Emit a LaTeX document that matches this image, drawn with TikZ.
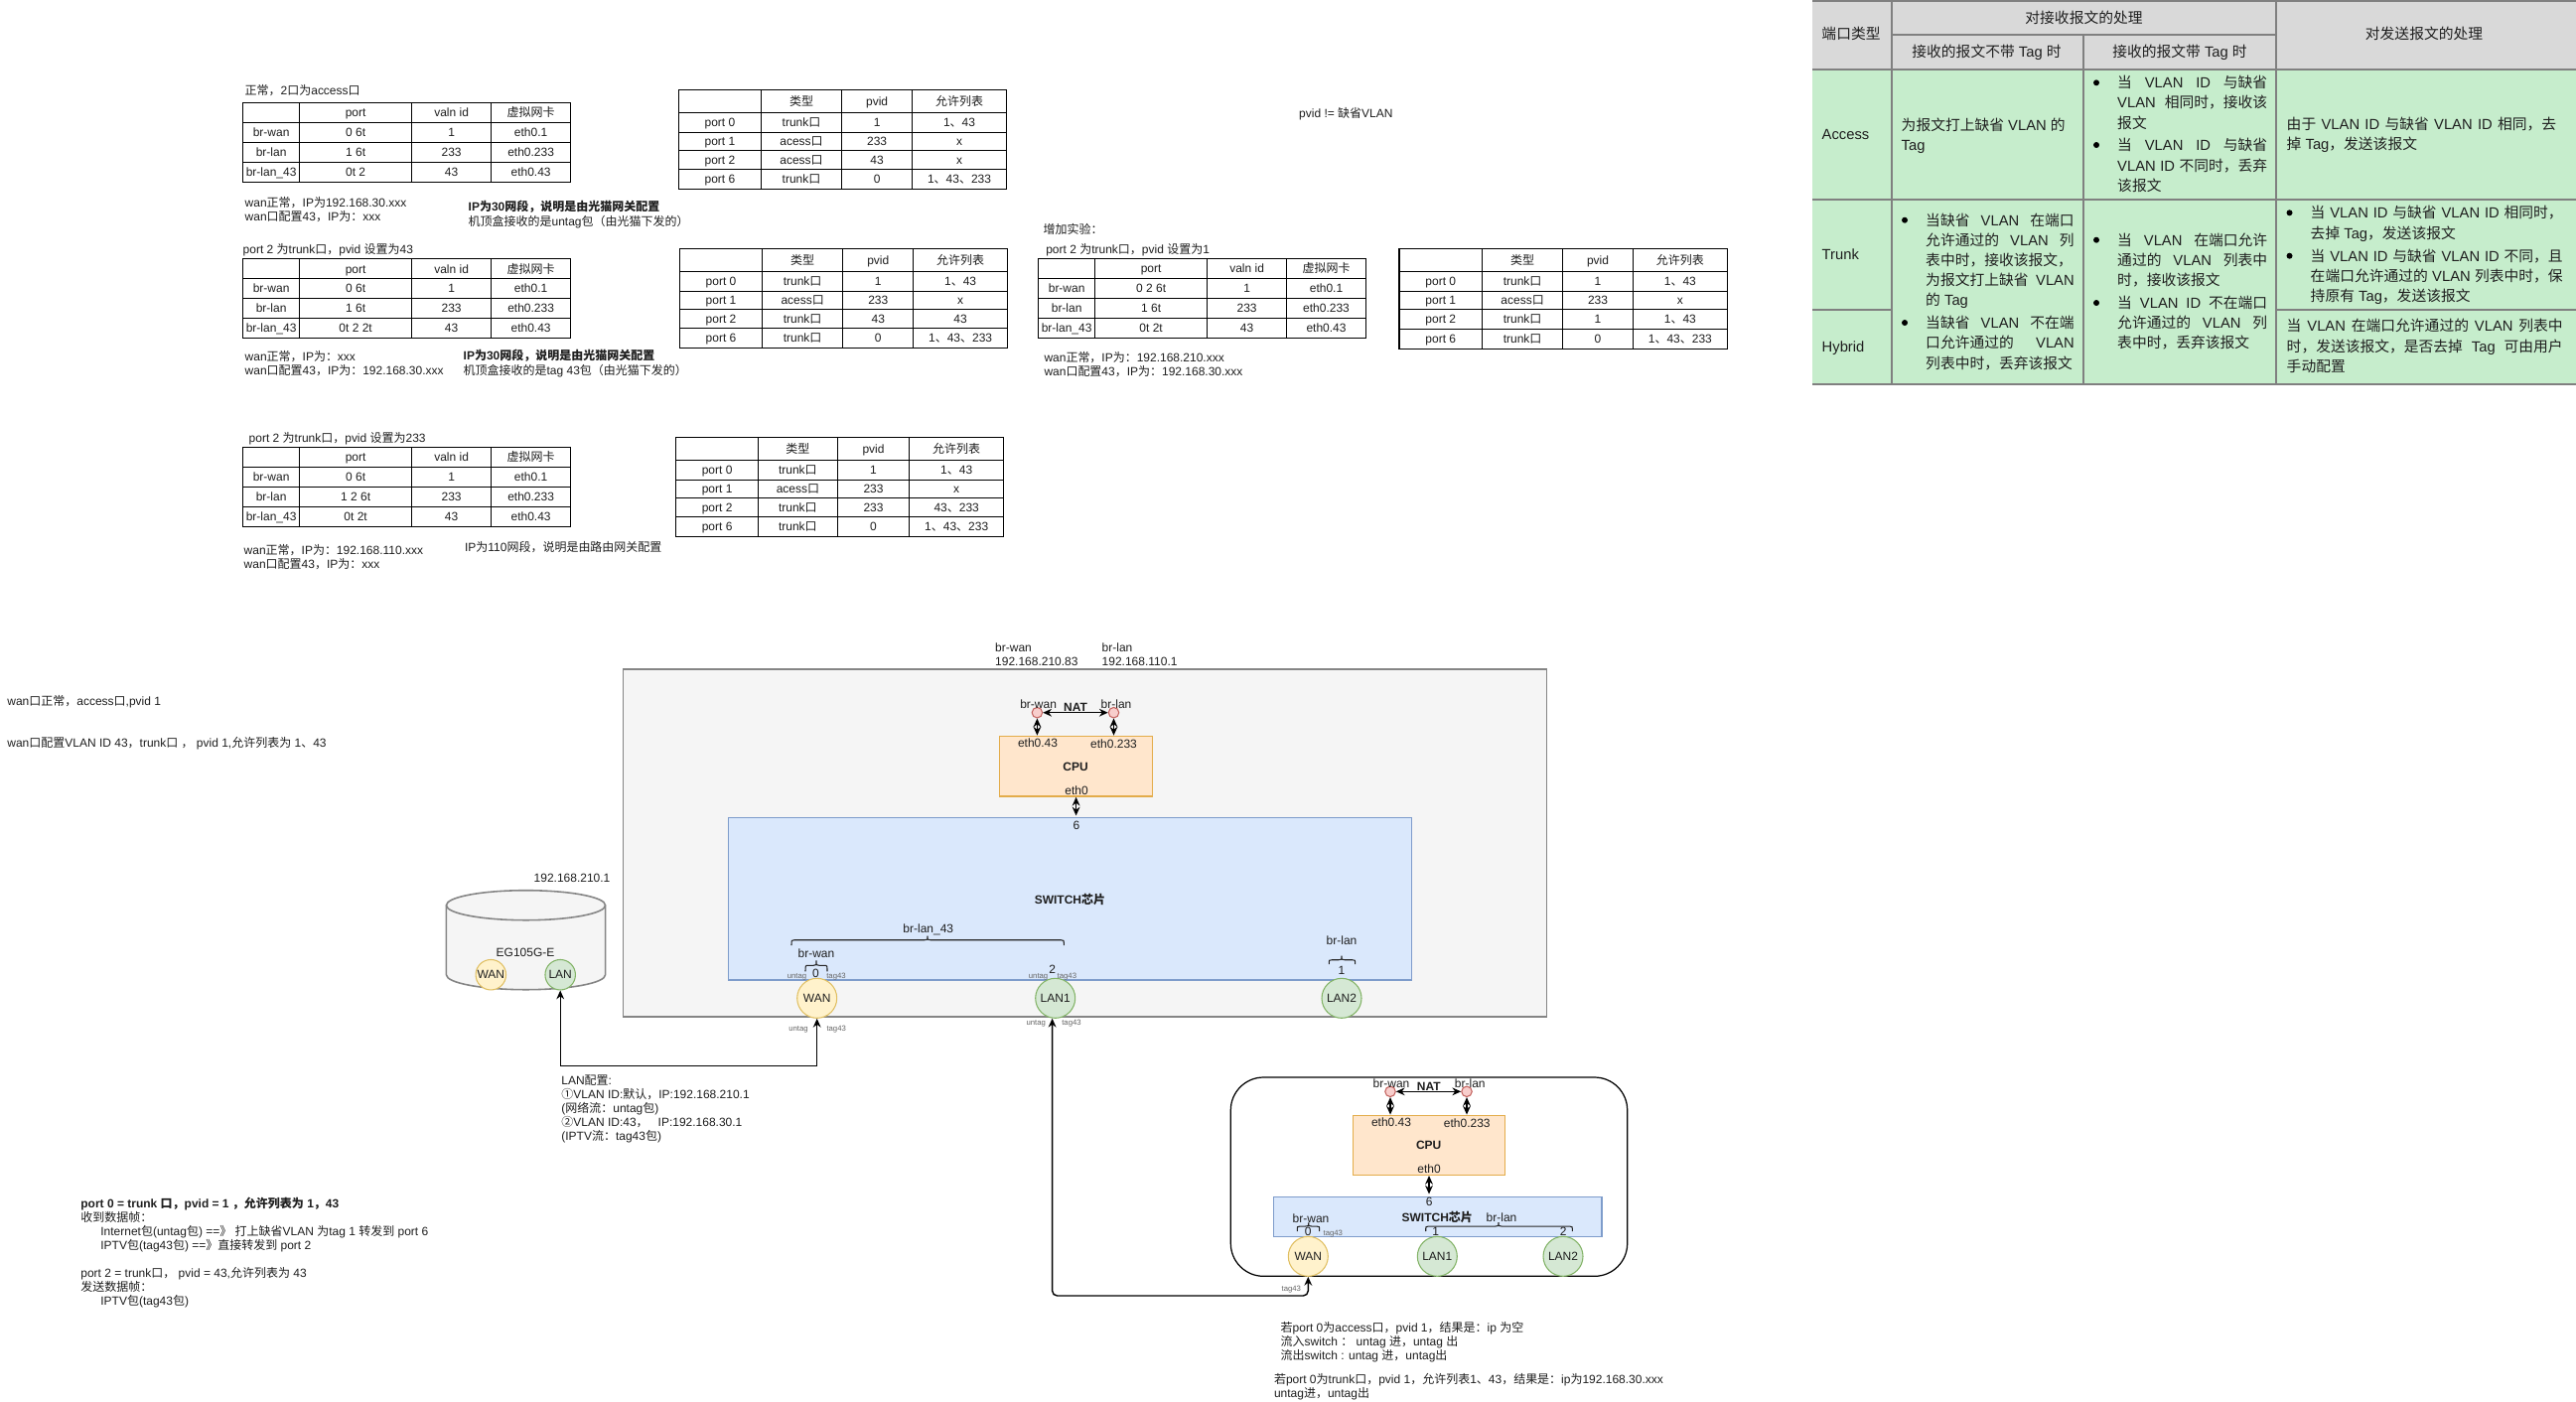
\documentclass[tikz,border=0pt]{standalone}
\usepackage{fontspec}
\usetikzlibrary{arrows.meta}
\setmainfont{Liberation Sans}
\newfontfamily\cjk{Noto Sans CJK SC}
\newfontfamily\lat{Liberation Sans}
\XeTeXinterchartokenstate=1
\newXeTeXintercharclass\cjkclass
\newcount\cc
\cc="2460 \loop \XeTeXcharclass\cc=\cjkclass \advance\cc by 1 \ifnum\cc<"2500 \repeat
\cc="2E80 \loop \XeTeXcharclass\cc=\cjkclass \advance\cc by 1 \ifnum\cc<"A000 \repeat
\cc="FF00 \loop \XeTeXcharclass\cc=\cjkclass \advance\cc by 1 \ifnum\cc<"FFF0 \repeat
\XeTeXinterchartoks 0 \cjkclass = {\cjk}
\XeTeXinterchartoks 4095 \cjkclass = {\cjk}
\XeTeXinterchartoks \cjkclass 0 = {\lat}
\XeTeXinterchartoks \cjkclass 4095 = {\lat}
\newdimen\pxu \pxu=0.01cm
\newcount\nodeno
\definecolor{tx}{HTML}{1F1F1F}
\definecolor{sub}{HTML}{666666}
\definecolor{gline}{HTML}{808080}
\definecolor{ghead}{HTML}{D9D9D9}
\definecolor{gbody}{HTML}{C6EDCC}
\definecolor{cpufill}{HTML}{FFE6CC}
\definecolor{cpuline}{HTML}{E3AC4A}
\definecolor{swfill}{HTML}{DAE8FC}
\definecolor{swline}{HTML}{7E9CCB}
\definecolor{yfill}{HTML}{FFF2CC}
\definecolor{yline}{HTML}{E0BF62}
\definecolor{gfill}{HTML}{D5E8D4}
\definecolor{gbord}{HTML}{82B366}
\definecolor{rfill}{HTML}{F8CECC}
\definecolor{rline}{HTML}{C4635F}
\tikzset{
  txt/.style={inner sep=0pt,text height=2.6pt,text depth=0.15pt,text=tx,font=\fontsize{3.41}{4.1}\selectfont},
  big/.style={text height=3.3pt,text depth=0.15pt,font=\fontsize{4.2}{5}\selectfont},
  tiny/.style={text height=1.8pt,text depth=0.1pt,text=sub,font=\fontsize{2.2}{3}\selectfont},
  left/.style={anchor=west},
  tline/.style={draw=black,line width=0.35pt},
  iline/.style={draw=gline,line width=0.55pt},
  outer/.style={draw=sub!80!white,fill=black!4,line width=0.45pt},
  cpubox/.style={draw=cpuline,fill=cpufill,line width=0.4pt},
  swbox/.style={draw=swline,fill=swfill,line width=0.4pt},
  roundport/.style={circle,inner sep=0pt,minimum size=40\pxu,line width=0.3pt,text=tx,font=\fontsize{3.41}{4.1}\selectfont},
  yport/.style={roundport,draw=yline,fill=yfill},
  gport/.style={roundport,draw=gbord,fill=gfill},
  rdot/.style={circle,inner sep=0pt,minimum size=10.5\pxu,draw=rline,fill=rfill,line width=0.3pt},
  biarrow/.style={draw=black,line width=0.4pt,{Stealth[length=2.5pt,width=2.2pt]}-{Stealth[length=2.5pt,width=2.2pt]}},
  brc/.style={draw=black!85,line width=0.3pt},
}
\newcommand\lbl[4][]{\global\advance\nodeno by 1\relax\node[txt,#1] (n\the\nodeno) at ({#2},{#3}) {#4};}
\newcommand\jl[4]{\lbl[big,left]{#1}{#2}{\makebox[#3\pxu][s]{#4}}}
\newcommand\setx[5]{\def\xa{#1}\def\xb{#2}\def\xc{#3}\def\xd{#4}\def\xe{#5}}
\newcommand\trow[6]{%
  \draw[tline] (\xa,#1) rectangle (\xe,#2);
  \draw[tline] (\xb,#1) -- (\xb,#2) (\xc,#1) -- (\xc,#2) (\xd,#1) -- (\xd,#2);
  \lbl{(\xa+\xb)/2}{(#1+#2)/2}{#3}
  \lbl{(\xb+\xc)/2}{(#1+#2)/2}{#4}
  \lbl{(\xc+\xd)/2}{(#1+#2)/2}{#5}
  \lbl{(\xd+\xe)/2}{(#1+#2)/2}{#6}}
% x1,x2,xtip,ytip,ymid,yend
\newcommand\curly[6]{\draw[brc] (#1,#6) .. controls (#1,#5) .. ({#1+3},#5) -- ({#3-3},#5) .. controls (#3,#5) .. (#3,#4) .. controls (#3,#5) .. ({#3+3},#5) -- ({#2-3},#5) .. controls (#2,#5) .. (#2,#6);}
\begin{document}
\begin{tikzpicture}[x=0.01cm,y=-0.01cm]
\useasboundingbox (0,0) rectangle (2594,1411);
\fill[white] (0,0) rectangle (2594,1411);
% ---------- tables, left
\lbl[left]{246}{90.7}{正常，2口为access口}
\setx{244.6}{301.6}{414.6}{494.6}{574.6}
\trow{103.3}{123.3}{}{port}{valn id}{虚拟网卡}
\trow{123.3}{143.3}{br-wan}{0 6t}{1}{eth0.1}
\trow{143.3}{163.3}{br-lan}{1 6t}{233}{eth0.233}
\trow{163.3}{183.3}{br-lan\_43}{0t 2}{43}{eth0.43}
\lbl[left]{246}{204}{wan正常，IP为192.168.30.xxx}
\lbl[left]{246}{218}{wan口配置43，IP为：xxx}
\lbl[left]{471}{208}{\bfseries IP为30网段，说明是由光猫网关配置}
\lbl[left]{471}{222.7}{机顶盒接收的是untag包（由光猫下发的）}
\setx{683.4}{766.5}{847.6}{918.7}{1013.4}
\trow{90.3}{113.3}{}{类型}{pvid}{允许列表}
\trow{113.3}{133.3}{port 0}{trunk口}{1}{1、43}
\trow{133.3}{151.7}{port 1}{acess口}{233}{x}
\trow{151.7}{170.7}{port 2}{acess口}{43}{x}
\trow{170.7}{190.3}{port 6}{trunk口}{0}{1、43、233}
% second
\lbl[left]{244}{251}{port 2 为trunk口，pvid 设置为43}
\setx{244.6}{301.6}{414.6}{494.6}{574.6}
\trow{260.7}{280.7}{}{port}{valn id}{虚拟网卡}
\trow{280.7}{300.3}{br-wan}{0 6t}{1}{eth0.1}
\trow{300.3}{320.3}{br-lan}{1 6t}{233}{eth0.233}
\trow{320.3}{340.3}{br-lan\_43}{0t 2 2t}{43}{eth0.43}
\lbl[left]{246}{358.7}{wan正常，IP为：xxx}
\lbl[left]{246}{372.7}{wan口配置43，IP为：192.168.30.xxx}
\lbl[left]{466}{358.3}{\bfseries IP为30网段，说明是由光猫网关配置}
\lbl[left]{466}{372.7}{机顶盒接收的是tag 43包（由光猫下发的）}
\setx{684.4}{767.6}{848.7}{919.8}{1014.4}
\trow{250.3}{273.3}{}{类型}{pvid}{允许列表}
\trow{273.3}{293.3}{port 0}{trunk口}{1}{1、43}
\trow{293.3}{311.7}{port 1}{acess口}{233}{x}
\trow{311.7}{330.7}{port 2}{trunk口}{43}{43}
\trow{330.7}{350.3}{port 6}{trunk口}{0}{1、43、233}
% third
\lbl[left]{250}{441}{port 2 为trunk口，pvid 设置为233}
\setx{244.6}{301.6}{414.6}{494.6}{574.6}
\trow{450.3}{470.3}{}{port}{valn id}{虚拟网卡}
\trow{470.3}{490.3}{br-wan}{0 6t}{1}{eth0.1}
\trow{490.3}{510.3}{br-lan}{1 2 6t}{233}{eth0.233}
\trow{510.3}{530.3}{br-lan\_43}{0t 2t}{43}{eth0.43}
\lbl[left]{245}{554}{wan正常，IP为：192.168.110.xxx}
\lbl[left]{245}{568.3}{wan口配置43，IP为：xxx}
\lbl[left]{467.4}{551}{IP为110网段，说明是由路由网关配置}
\setx{680.8}{763.4}{843.4}{915.6}{1010.8}
\trow{440.3}{463.3}{}{类型}{pvid}{允许列表}
\trow{463.3}{483.3}{port 0}{trunk口}{1}{1、43}
\trow{483.3}{501.7}{port 1}{acess口}{233}{x}
\trow{501.7}{520.7}{port 2}{trunk口}{233}{43、233}
\trow{520.7}{540.3}{port 6}{trunk口}{0}{1、43、233}
% fourth
\lbl[left]{1307.5}{113.7}{pvid != 缺省VLAN}
\lbl[left]{1050}{231}{增加实验：}
\lbl[left]{1052.6}{251}{port 2 为trunk口，pvid 设置为1}
\setx{1045.6}{1102.7}{1215.5}{1295.7}{1375.4}
\trow{260.3}{280.3}{}{port}{valn id}{虚拟网卡}
\trow{280.3}{300.3}{br-wan}{0 2 6t}{1}{eth0.1}
\trow{300.3}{320.3}{br-lan}{1 6t}{233}{eth0.233}
\trow{320.3}{340.3}{br-lan\_43}{0t 2t}{43}{eth0.43}
\lbl[left]{1050.8}{360}{wan正常，IP为：192.168.210.xxx}
\lbl[left]{1050.8}{373.7}{wan口配置43，IP为：192.168.30.xxx}
\setx{1409}{1492.5}{1573.7}{1644.4}{1739.3}
\trow{250.3}{273.3}{}{类型}{pvid}{允许列表}
\trow{273.3}{293.3}{port 0}{trunk口}{1}{1、43}
\trow{293.3}{311.7}{port 1}{acess口}{233}{x}
\trow{311.7}{331.3}{port 2}{trunk口}{1}{1、43}
\trow{331.3}{351.3}{port 6}{trunk口}{0}{1、43、233}
% ---------- reference table, top right
\fill[ghead] (1825,0.7) rectangle (2594,69.7);
\fill[gbody] (1825,69.7) rectangle (2594,386.7);
\draw[iline] (1825,0.7) -- (2594,0.7) (1825,69.7) -- (2594,69.7) (1825,201) -- (2594,201) (1825,386.7) -- (2594,386.7);
\draw[iline] (1905,35.3) -- (2292,35.3) (1825,312) -- (1905,312) (2292,312) -- (2594,312);
\draw[iline] (1905,0.7) -- (1905,386.7) (2292,0.7) -- (2292,386.7) (2098,35.3) -- (2098,386.7);
\lbl[big]{1864}{34.3}{端口类型}
\lbl[big]{2098.5}{18.3}{对接收报文的处理}
\lbl[big]{2000.5}{52.3}{接收的报文不带 Tag 时}
\lbl[big]{2195}{52.3}{接收的报文带 Tag 时}
\lbl[big]{2441}{34}{对发送报文的处理}
\lbl[big,left]{1834}{134.7}{Access}
\lbl[big,left]{1834}{256}{Trunk}
\lbl[big,left]{1834}{349}{Hybrid}
\lbl[big,left]{1914}{126}{为报文打上缺省 VLAN 的}
\lbl[big,left]{1914}{145.7}{Tag}
\jl{2131.5}{83.3}{151}{当 VLAN ID 与缺省}
\jl{2131.5}{103.3}{151}{VLAN 相同时，接收该}
\lbl[big,left]{2131.5}{124}{报文}
\jl{2131.5}{146}{151}{当 VLAN ID 与缺省}
\jl{2131.5}{166.7}{151}{VLAN ID 不同时，丢弃}
\lbl[big,left]{2131.5}{187}{该报文}
\jl{2302}{125}{271.5}{由于 VLAN ID 与缺省 VLAN ID 相同，去}
\lbl[big,left]{2302}{145}{掉 Tag，发送该报文}
\jl{1938.5}{221.7}{149.5}{当缺省 VLAN 在端口}
\jl{1938.5}{241.7}{149.5}{允许通过的 VLAN 列}
\lbl[big,left]{1938.5}{261.7}{表中时，接收该报文，}
\jl{1938.5}{281.7}{149.5}{为报文打上缺省 VLAN}
\lbl[big,left]{1938.5}{301.7}{的 Tag}
\jl{1938.5}{325}{149.5}{当缺省 VLAN 不在端}
\jl{1938.5}{345}{149.5}{口允许通过的 VLAN}
\lbl[big,left]{1938.5}{365.7}{列表中时，丢弃该报文}
\jl{2131.5}{241.7}{151}{当 VLAN 在端口允许}
\jl{2131.5}{261.7}{151}{通过的 VLAN 列表中}
\lbl[big,left]{2131.5}{281.7}{时，接收该报文}
\jl{2131.5}{305}{151}{当 VLAN ID 不在端口}
\jl{2131.5}{325}{151}{允许通过的 VLAN 列}
\lbl[big,left]{2131.5}{345}{表中时，丢弃该报文}
\jl{2326}{214.3}{254}{当 VLAN ID 与缺省 VLAN ID 相同时，}
\lbl[big,left]{2326}{235}{去掉 Tag，发送该报文}
\jl{2326}{257.7}{254}{当 VLAN ID 与缺省 VLAN ID 不同，且}
\jl{2326}{277.7}{254}{在端口允许通过的 VLAN 列表中时，保}
\lbl[big,left]{2326}{298.3}{持原有 Tag，发送该报文}
\jl{2302}{328.3}{278}{当 VLAN 在端口允许通过的 VLAN 列表中}
\jl{2302}{349}{278}{时，发送该报文，是否去掉 Tag 可由用户}
\lbl[big,left]{2302}{369}{手动配置}
\foreach \bx/\by in {2111/83.3,2111/146,1918/221.7,1918/325,2111/241.7,2111/305,2305.5/214.3,2305.5/257.7}
  \fill[black] (\bx,\by) circle (3);
% ---------- side notes
\lbl[left]{6.7}{705.7}{wan口正常，access口,pvid 1}
\lbl[left]{6.7}{747.7}{wan口配置VLAN ID 43，trunk口 ， pvid 1,允许列表为 1、43}
\lbl[left]{80.7}{1211.7}{\bfseries port 0 = trunk 口，pvid = 1 ，允许列表为 1，43}
\lbl[left]{80.7}{1225.7}{收到数据帧：}
\lbl[left]{100.7}{1240}{Internet包(untag包) ==》 打上缺省VLAN 为tag 1 转发到 port 6}
\lbl[left]{100.7}{1253.7}{IPTV包(tag43包) ==》直接转发到 port 2}
\lbl[left]{80.7}{1281.7}{port 2 = trunk口， pvid = 43,允许列表为 43}
\lbl[left]{80.7}{1296.3}{发送数据帧：}
\lbl[left]{100.7}{1310.3}{IPTV包(tag43包)}
% ---------- main router
\lbl[left]{1001.5}{651.7}{br-wan}
\lbl[left]{1001.5}{665.7}{192.168.210.83}
\lbl[left]{1109}{651.7}{br-lan}
\lbl[left]{1109}{665.7}{192.168.110.1}
\draw[outer] (627.3,673.7) rectangle (1557.5,1023.7);
\node[rectangle,inner sep=0pt,minimum width=154.3\pxu,minimum height=60.7\pxu,cpubox] (cpu) at (1083.5,771.7) {};
\node[rectangle,inner sep=0pt,minimum width=688.3\pxu,minimum height=163.3\pxu,swbox] (sw) at (1077.4,905.3) {};
\node[rdot] (dw) at (1044.4,717.7) {};
\node[rdot] (dl) at (1121.5,717.7) {};
\draw[biarrow] (dw) -- (dl);
\draw[biarrow] (dw.south) -- (dw.south |- cpu.north);
\draw[biarrow] (dl.south) -- (dl.south |- cpu.north);
\draw[biarrow,shorten >=1.5\pxu] (cpu.south -| 1083.6,0) -- (sw.north -| 1083.6,0);
\lbl{1045.6}{709}{br-wan}
\lbl{1124}{709}{br-lan}
\lbl[font=\fontsize{3.41}{4.1}\selectfont\bfseries]{1083}{711.7}{NAT}
\lbl{1045}{747.7}{eth0.43}
\lbl{1121.5}{748.7}{eth0.233}
\lbl[font=\fontsize{3.41}{4.1}\selectfont\bfseries]{1083}{771.7}{CPU}
\lbl{1084}{795.7}{eth0}
\lbl{1084}{830.7}{6}
\lbl[font=\fontsize{3.41}{4.1}\selectfont\bfseries]{1077.4}{905.7}{SWITCH芯片}
\lbl{934.8}{934.7}{br-lan\_43}
\curly{797}{1071.3}{934}{942.7}{946.7}{952}
\lbl{822}{959.7}{br-wan}
\curly{811}{833}{822}{967.3}{972.3}{978.3}
\lbl{821.5}{980.3}{0}
\lbl[tiny]{802.5}{982.7}{untag}
\lbl[tiny]{842}{982.7}{tag43}
\lbl{1059.7}{975.7}{2}
\lbl[tiny]{1045.6}{982.7}{untag}
\lbl[tiny]{1074.4}{982.7}{tag43}
\lbl{1351}{946.7}{br-lan}
\curly{1338.3}{1364.6}{1351}{962.7}{966.7}{971}
\lbl{1351}{976.7}{1}
\node[yport] (wan) at (822.7,1005.3) {WAN};
\node[gport] (lan1) at (1062.7,1005.3) {LAN1};
\node[gport] (lan2) at (1351,1005.3) {LAN2};
\lbl[tiny]{804}{1035.7}{untag}
\lbl[tiny]{842.2}{1035.7}{tag43}
\lbl[tiny]{1043.3}{1029.7}{untag}
\lbl[tiny]{1079}{1029.7}{tag43}
% ---------- modem
\path[outer] (449.4,911.7) -- (449.4,981.7) arc[start angle=180,end angle=0,x radius=80.1,y radius=15] -- (609.6,911.7) arc[start angle=0,end angle=-180,x radius=80.1,y radius=15] -- cycle;
\draw[draw=sub!80!white,line width=0.45pt] (449.4,911.7) arc[start angle=180,end angle=0,x radius=80.1,y radius=15];
\lbl[left]{537}{883.7}{192.168.210.1}
\lbl{529}{959.3}{EG105G-E}
\node[yport,minimum size=30.5\pxu] (egw) at (494.3,981.7) {WAN};
\node[gport,minimum size=30.5\pxu] (egl) at (564.2,981.7) {LAN};
\coordinate (bendA) at (700,1073.7);
\draw[biarrow] (wan.south) -- (wan.south |- bendA) -- (egl.south |- bendA) -- (egl.south);
\lbl[left]{564.7}{1087.7}{LAN配置:}
\lbl[left]{564.7}{1101.7}{①VLAN ID:默认，IP:192.168.210.1}
\lbl[left]{564.7}{1115.7}{(网络流：untag包)}
\lbl[left]{564.7}{1129.7}{②VLAN ID:43，\ \ \ IP:192.168.30.1}
\lbl[left]{564.7}{1143.7}{(IPTV流：tag43包)}
% ---------- second router
\node[draw=black,line width=0.35pt,fill=white,rounded corners=9.4pt,inner sep=0pt,minimum width=399.4\pxu,minimum height=200.3\pxu] (box2) at (1439,1185.15) {};
\node[rectangle,inner sep=0pt,minimum width=153.4\pxu,minimum height=60\pxu,cpubox] (cpu2) at (1439,1153.3) {};
\node[rectangle,inner sep=0pt,minimum width=330.7\pxu,minimum height=40\pxu,swbox] (sw2) at (1447.65,1225.3) {};
\node[rdot] (dw2) at (1400,1099.3) {};
\node[rdot] (dl2) at (1477,1099.3) {};
\draw[biarrow] (dw2) -- (dl2);
\draw[biarrow] (dw2.south) -- (dw2.south |- cpu2.north);
\draw[biarrow] (dl2.south) -- (dl2.south |- cpu2.north);
\draw[biarrow,shorten >=2\pxu] (cpu2.south) -- (cpu2.south |- sw2.north);
\lbl{1401}{1090.7}{br-wan}
\lbl{1480.3}{1090.7}{br-lan}
\lbl[font=\fontsize{3.41}{4.1}\selectfont\bfseries]{1438.7}{1093.7}{NAT}
\lbl{1401}{1129.7}{eth0.43}
\lbl{1477.3}{1130.7}{eth0.233}
\lbl[font=\fontsize{3.41}{4.1}\selectfont\bfseries]{1438.7}{1153.3}{CPU}
\lbl{1439}{1176.7}{eth0}
\lbl{1439.3}{1209.7}{6}
\lbl[font=\fontsize{3.41}{4.1}\selectfont\bfseries]{1447.3}{1225.7}{SWITCH芯片}
\lbl{1320}{1226.7}{br-wan}
\curly{1306.3}{1328.7}{1317.7}{1231.3}{1235}{1240}
\lbl{1317.3}{1240}{0}
\lbl[tiny]{1342.3}{1241.7}{tag43}
\lbl{1512}{1225.7}{br-lan}
\curly{1435.7}{1583.3}{1509}{1231}{1235}{1240}
\lbl{1445.7}{1240}{1}
\lbl{1574.3}{1240}{2}
\node[yport] (wan2) at (1317.3,1265.3) {WAN};
\node[gport] (lan12) at (1447.3,1265.3) {LAN1};
\node[gport] (lan22) at (1574,1265.3) {LAN2};
\coordinate (lan1in) at (1059.6,1025.7);
\coordinate (bendB) at (1200,1305);
\draw[biarrow,rounded corners=5\pxu] (wan2.south) -- (wan2.south |- bendB) -- (lan1in |- bendB) -- (lan1in);
\lbl[tiny]{1300.3}{1297.7}{tag43}
\lbl[left]{1289}{1336.7}{若port 0为access口，pvid 1，结果是：ip 为空}
\lbl[left]{1289}{1350.7}{流入switch ： untag 进，untag 出}
\lbl[left]{1289}{1365}{流出switch : untag 进，untag出}
\lbl[left]{1282.3}{1388.7}{若port 0为trunk口，pvid 1，允许列表1、43，结果是：ip为192.168.30.xxx}
\lbl[left]{1282.3}{1402.7}{untag进，untag出}
\end{tikzpicture}
\end{document}
